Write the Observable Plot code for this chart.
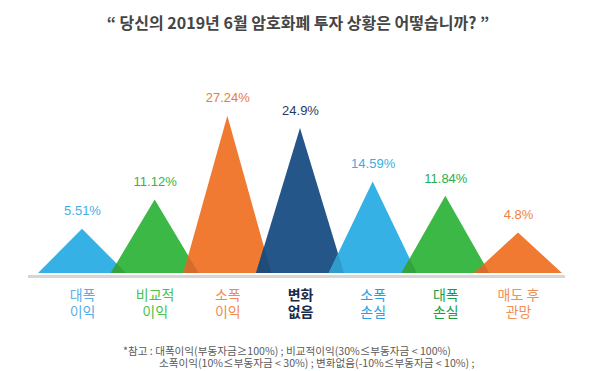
<!DOCTYPE html>
<html>
<head>
<meta charset="utf-8">
<script src="https://cdn.jsdelivr.net/npm/d3@7"></script>
<script src="https://cdn.jsdelivr.net/npm/@observablehq/plot@0.6"></script>
<style>
  html, body { margin: 0; padding: 0; background: #fff; }
  #wrap { position: relative; width: 600px; height: 371px; overflow: hidden; }
  #title { position: absolute; left: 0; width: 596px; top: 12px; text-align: center;
    font-family: "Noto Sans CJK KR", sans-serif; font-size: 16px; line-height: 20px;
    font-weight: bold; color: #454545; }
  #chart { position: absolute; left: 0; top: 0; }
  .note { position: absolute; font-family: "Noto Sans CJK KR", sans-serif; font-size: 10.6px;
    line-height: 12px; color: #5a5a5a; white-space: nowrap; }
  g[aria-label="values"] text { letter-spacing: -0.8px; }
</style>
</head>
<body>
<div id="wrap">
  <div id="title">“ 당신의 2019년 6월 암호화폐 투자 상황은 어떻습니까? ”</div>
  <div id="chart"></div>
  <div class="note" style="left:123px; top:345px;">*참고 : 대폭이익(부동자금≥100%) ; 비교적이익(30%≤부동자금 &lt; 100%)</div>
  <div class="note" style="left:159px; top:357px;">소폭이익(10%≤부동자금 &lt; 30%) ; 변화없음(-10%≤부동자금 &lt; 10%) ;</div>
</div>
<script>
const categories = ["대폭\n이익", "비교적\n이익", "소폭\n이익", "변화\n없음", "소폭\n손실", "대폭\n손실", "매도 후\n관망"];
const values = [5.51, 11.12, 27.24, 24.9, 14.59, 11.84, 4.8];
const valueLabels = ["5.51%", "11.12%", "27.24%", "24.9%", "14.59%", "11.84%", "4.8%"];
const fillColors = ["#36b1e6", "#3bb845", "#f07a32", "#24568a", "#36b1e6", "#3bb845", "#f07a32"];
const valueColors = ["#45aee6", "#36b34a", "#ec7a3c", "#1f3c64", "#3aaee3", "#2cae48", "#ee7f3f"];
const categoryColors = ["#5aaee8", "#4cbf4c", "#f08a50", "#1a2a4a", "#2a9ee0", "#16a040", "#f0905a"];

const base = -3;
const halfWidth = 0.605;

const tri = [];
values.forEach((v, i) => {
  tri.push({i, x: i - halfWidth, y: base});
  tri.push({i, x: i, y: v});
  tri.push({i, x: i + halfWidth, y: base});
});

// overlap regions between neighbouring triangles, drawn in a darker shade of the upper one
const overlaps = [];
for (let i = 0; i < values.length - 1; i++) {
  const a = values[i] - base, b = values[i + 1] - base;
  const t = (a * halfWidth + b * (1 - halfWidth)) / (a + b);
  const yy = base + a * (1 - t / halfWidth);
  overlaps.push({i: i + 1, x: i + 1 - halfWidth, y: base});
  overlaps.push({i: i + 1, x: i + t, y: yy});
  overlaps.push({i: i + 1, x: i + halfWidth, y: base});
}

const idx = values.map((d, i) => i);

const chart = Plot.plot({
  width: 600,
  height: 330,
  marginLeft: 28,
  marginRight: 35,
  marginTop: 40,
  marginBottom: 40,
  x: {domain: [0, 6], range: [82, 518], axis: null},
  y: {domain: [base, 30], range: [273, 101.4], axis: null},
  color: {type: "identity"},
  marks: [
    Plot.ruleY([base], {stroke: "#d6d6d6", strokeWidth: 3, dy: 3}),
    Plot.areaY(tri, {x: "x", y1: base, y2: "y", z: "i", fill: d => fillColors[d.i]}),
    Plot.areaY(overlaps, {x: "x", y1: base, y2: "y", z: "i", fill: d => d3.color(fillColors[d.i]).darker(0.35).formatHex()}),
    Plot.text(idx, {
      ariaLabel: "values",
      x: i => i, y: i => values[i], text: i => valueLabels[i],
      fill: i => valueColors[i], dy: -18, fontSize: 13,
      fontFamily: "'Liberation Sans', Arial, sans-serif"
    }),
    Plot.text(idx.filter(i => i !== 3), {
      x: i => i, y: base, text: i => categories[i],
      fill: i => categoryColors[i], dy: 29.5, fontSize: 14, lineHeight: 1.22,
      fontFamily: "'Noto Sans CJK KR', sans-serif"
    }),
    Plot.text(idx.filter(i => i === 3), {
      x: i => i, y: base, text: i => categories[i],
      fill: i => categoryColors[i], dy: 29.5, fontSize: 14, lineHeight: 1.22,
      fontWeight: "bold",
      fontFamily: "'Noto Sans CJK KR', sans-serif"
    })
  ]
});
document.getElementById("chart").appendChild(chart);
</script>
</body>
</html>
